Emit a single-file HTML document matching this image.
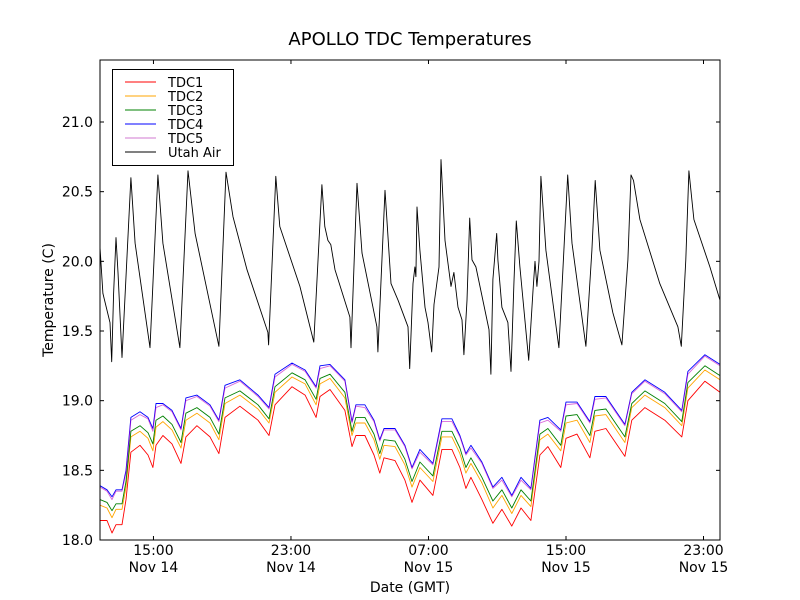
<!DOCTYPE html>
<html><head><meta charset="utf-8"><style>
body{margin:0;background:#fff;}
svg{display:block;font-family:"DejaVu Sans","Liberation Sans",sans-serif;}
</style></head><body>
<svg id="chart" width="800" height="600">
<rect x="0" y="0" width="800" height="600" fill="#fff"/>
<text x="410" y="45" font-size="18" text-anchor="middle">APOLLO TDC Temperatures</text>
<text transform="translate(53,300) rotate(-90)" font-size="14" text-anchor="middle">Temperature (C)</text>
<text x="410" y="592" font-size="14" text-anchor="middle">Date (GMT)</text>
<g id="series"></g>
<g id="axes"></g>
<rect x="100" y="60" width="620" height="480" fill="none" stroke="#000" stroke-width="1"/>
<g>
<rect x="112.5" y="69.5" width="121" height="96" fill="#fff" stroke="#000"/>
<line x1="125" y1="82" x2="156" y2="82" stroke="#ff0000"/>
<text x="168" y="87" font-size="13">TDC1</text>
<line x1="125" y1="96" x2="156" y2="96" stroke="#ffa500"/>
<text x="168" y="101" font-size="13">TDC2</text>
<line x1="125" y1="110" x2="156" y2="110" stroke="#008000"/>
<text x="168" y="115" font-size="13">TDC3</text>
<line x1="125" y1="124" x2="156" y2="124" stroke="#0000ff"/>
<text x="168" y="129" font-size="13">TDC4</text>
<line x1="125" y1="138" x2="156" y2="138" stroke="#bf40bf" stroke-opacity="0.7"/>
<text x="168" y="143" font-size="13">TDC5</text>
<line x1="125" y1="152" x2="156" y2="152" stroke="#000"/>
<text x="168" y="157" font-size="13">Utah Air</text>
</g>
</svg>
<script>
// time in hours since Nov 14 00:00 GMT
const airTime=[11.89,12.06,12.47,12.57,12.68,12.82,12.94,13.17,13.69,13.93,14.80,15.26,15.55,16.54,17.01,17.42,18.81,19.22,19.63,20.44,21.66,21.70,22.12,22.35,23.52,24.33,24.80,24.97,25.15,25.32,25.56,26.43,26.49,26.84,27.13,28.00,28.06,28.47,28.82,29.23,29.81,29.91,30.10,30.21,30.27,30.33,30.50,30.80,30.97,31.19,31.32,31.61,31.73,31.96,32.31,32.48,32.72,32.95,33.06,33.24,33.40,33.53,33.76,34.52,34.63,34.75,34.97,35.04,35.27,35.62,35.80,35.97,36.11,36.32,36.61,36.83,37.08,37.20,37.31,37.43,37.54,37.83,38.59,38.82,39.10,39.35,40.16,40.51,40.70,40.97,41.73,42.25,42.60,42.78,42.93,43.30,44.46,45.51,45.71,45.97,46.15,46.44,47.37,47.96];
const airTemp=[20.10,19.77,19.56,19.28,19.77,20.17,19.92,19.31,20.60,20.13,19.38,20.62,20.13,19.38,20.65,20.20,19.39,20.64,20.32,19.94,19.49,19.40,20.61,20.25,19.82,19.42,20.55,20.25,20.15,20.12,19.94,19.60,19.38,20.56,20.06,19.53,19.35,20.51,19.84,19.72,19.53,19.23,19.84,19.96,19.89,20.39,20.08,19.67,19.56,19.35,19.69,19.96,20.73,20.15,19.82,19.92,19.67,19.58,19.33,19.72,20.31,20.01,19.96,19.51,19.19,19.87,20.20,20.01,19.67,19.56,19.21,19.84,20.29,19.96,19.58,19.29,19.79,20.00,19.82,20.00,20.61,20.08,19.38,19.94,20.62,20.13,19.39,20.08,20.58,20.08,19.63,19.40,20.01,20.62,20.58,20.30,19.84,19.53,19.39,20.01,20.65,20.30,19.96,19.72];
const tdcTime=[11.89,12.30,12.59,12.82,13.17,13.40,13.69,14.22,14.68,14.97,15.15,15.55,16.08,16.60,16.89,17.53,18.29,18.81,19.16,20.03,21.08,21.72,22.07,23.06,23.82,24.46,24.69,25.27,26.14,26.55,26.78,27.30,27.83,28.17,28.41,29.05,29.63,30.04,30.50,31.26,31.78,32.36,32.83,33.18,33.47,34.11,34.75,35.27,35.85,36.38,36.96,37.48,37.95,38.70,39.00,39.64,40.39,40.68,41.32,42.43,42.83,43.59,44.75,45.74,46.09,47.08,47.96];
const tdc1=[18.14,18.14,18.05,18.11,18.11,18.29,18.63,18.68,18.61,18.52,18.68,18.75,18.69,18.55,18.74,18.82,18.74,18.62,18.88,18.96,18.86,18.75,18.97,19.10,19.04,18.88,19.03,19.08,18.93,18.67,18.75,18.75,18.61,18.48,18.59,18.57,18.43,18.27,18.43,18.32,18.65,18.65,18.52,18.37,18.45,18.29,18.12,18.22,18.10,18.23,18.14,18.61,18.67,18.52,18.73,18.76,18.59,18.78,18.80,18.60,18.86,18.95,18.86,18.74,19.00,19.14,19.06];
const tdc2=[18.25,18.23,18.16,18.22,18.22,18.38,18.74,18.78,18.73,18.64,18.81,18.85,18.79,18.66,18.86,18.91,18.84,18.72,18.98,19.04,18.94,18.84,19.06,19.17,19.12,18.97,19.12,19.16,19.02,18.75,18.84,18.84,18.72,18.58,18.68,18.67,18.54,18.38,18.52,18.42,18.74,18.74,18.62,18.48,18.55,18.41,18.23,18.32,18.19,18.32,18.24,18.72,18.76,18.64,18.84,18.86,18.70,18.89,18.90,18.70,18.95,19.04,18.95,18.82,19.09,19.22,19.15];
const tdc3=[18.29,18.27,18.21,18.26,18.26,18.42,18.78,18.82,18.77,18.69,18.86,18.89,18.83,18.70,18.91,18.95,18.88,18.76,19.02,19.07,18.97,18.87,19.10,19.20,19.15,19.01,19.16,19.19,19.06,18.78,18.88,18.88,18.76,18.62,18.72,18.71,18.58,18.42,18.56,18.46,18.78,18.78,18.66,18.52,18.59,18.45,18.28,18.36,18.23,18.36,18.28,18.76,18.80,18.68,18.89,18.90,18.75,18.93,18.94,18.74,18.98,19.07,18.98,18.85,19.13,19.25,19.18];
const tdc4=[18.39,18.36,18.31,18.36,18.36,18.50,18.88,18.92,18.88,18.80,18.98,18.98,18.93,18.80,19.02,19.04,18.97,18.86,19.11,19.15,19.04,18.95,19.19,19.27,19.22,19.10,19.25,19.26,19.15,18.85,18.97,18.97,18.86,18.72,18.80,18.80,18.68,18.52,18.65,18.55,18.87,18.87,18.75,18.62,18.68,18.56,18.38,18.45,18.32,18.45,18.37,18.86,18.88,18.79,18.99,18.99,18.85,19.03,19.03,18.83,19.06,19.15,19.06,18.93,19.21,19.33,19.26];
const tdc5=[18.38,18.35,18.29,18.35,18.35,18.48,18.86,18.90,18.87,18.78,18.95,18.97,18.92,18.79,19.00,19.03,18.96,18.85,19.09,19.14,19.03,18.94,19.17,19.26,19.21,19.09,19.23,19.25,19.14,18.84,18.96,18.95,18.85,18.71,18.79,18.79,18.67,18.51,18.63,18.54,18.85,18.85,18.74,18.61,18.66,18.55,18.37,18.43,18.31,18.43,18.36,18.84,18.86,18.78,18.97,18.98,18.84,19.01,19.02,18.82,19.05,19.14,19.05,18.92,19.19,19.32,19.25];
const yTicks=[18.0,18.5,19.0,19.5,20.0,20.5,21.0];
const yTickLabels=["18.0","18.5","19.0","19.5","20.0","20.5","21.0"];
const xTicks=[15,23,31,39,47];
const xTickTimes=["15:00","23:00","07:00","15:00","23:00"];
const xTickDates=["Nov 14","Nov 14","Nov 15","Nov 15","Nov 15"];

const X0=100,X1=720,Y0=540,Y1=60;
const tMin=11.89,tMax=47.96,vMin=18.0,vMax=21.445;
const sx=t=>X0+(t-tMin)/(tMax-tMin)*(X1-X0);
const sy=v=>Y0-(v-vMin)/(vMax-vMin)*(Y0-Y1);
const NS='http://www.w3.org/2000/svg';
const series=document.getElementById('series');
const axes=document.getElementById('axes');

function addLine(times,vals,color,name,op){
  const p=document.createElementNS(NS,'polyline');
  p.setAttribute('points',times.map((t,i)=>sx(t).toFixed(1)+','+sy(vals[i]).toFixed(1)).join(' '));
  p.setAttribute('fill','none');
  p.setAttribute('stroke',color);
  p.setAttribute('stroke-width','0.9');
  p.setAttribute('stroke-linejoin','round');
  if(op) p.setAttribute('stroke-opacity',op);
  
  
  series.appendChild(p);
}
addLine(tdcTime,tdc1,'#ff0000','series-tdc1');
addLine(tdcTime,tdc2,'#ffa500','series-tdc2');
addLine(tdcTime,tdc3,'#008000','series-tdc3');
addLine(tdcTime,tdc4,'#0000ff','series-tdc4');
addLine(tdcTime,tdc5,'#bf00bf','series-tdc5','0.6');
addLine(airTime,airTemp,'#000000','series-utah-air');

yTicks.forEach((v,i)=>{
  const y=sy(v);
  [[X0,X0+4],[X1-4,X1]].forEach(([a,b])=>{
    const l=document.createElementNS(NS,'line');
    l.setAttribute('x1',a);l.setAttribute('x2',b);l.setAttribute('y1',y);l.setAttribute('y2',y);
    l.setAttribute('stroke','#000');
    
    
    axes.appendChild(l);
  });
  const t=document.createElementNS(NS,'text');
  t.setAttribute('x',X0-7);t.setAttribute('y',y+5);
  t.setAttribute('font-size','14');t.setAttribute('text-anchor','end');
  t.textContent=yTickLabels[i];
  
  
  axes.appendChild(t);
});
xTicks.forEach((h,i)=>{
  const x=sx(h);
  [[Y0,Y0-4],[Y1,Y1+4]].forEach(([a,b])=>{
    const l=document.createElementNS(NS,'line');
    l.setAttribute('x1',x);l.setAttribute('x2',x);l.setAttribute('y1',a);l.setAttribute('y2',b);
    l.setAttribute('stroke','#000');
    
    
    axes.appendChild(l);
  });
  const t1=document.createElementNS(NS,'text');
  t1.setAttribute('x',x);t1.setAttribute('y',555);
  t1.setAttribute('font-size','14');t1.setAttribute('text-anchor','middle');
  t1.textContent=xTickTimes[i];
  
  
  axes.appendChild(t1);
  const t2=document.createElementNS(NS,'text');
  t2.setAttribute('x',x);t2.setAttribute('y',572);
  t2.setAttribute('font-size','14');t2.setAttribute('text-anchor','middle');
  t2.textContent=xTickDates[i];
  
  
  axes.appendChild(t2);
});
</script>
</body></html>
